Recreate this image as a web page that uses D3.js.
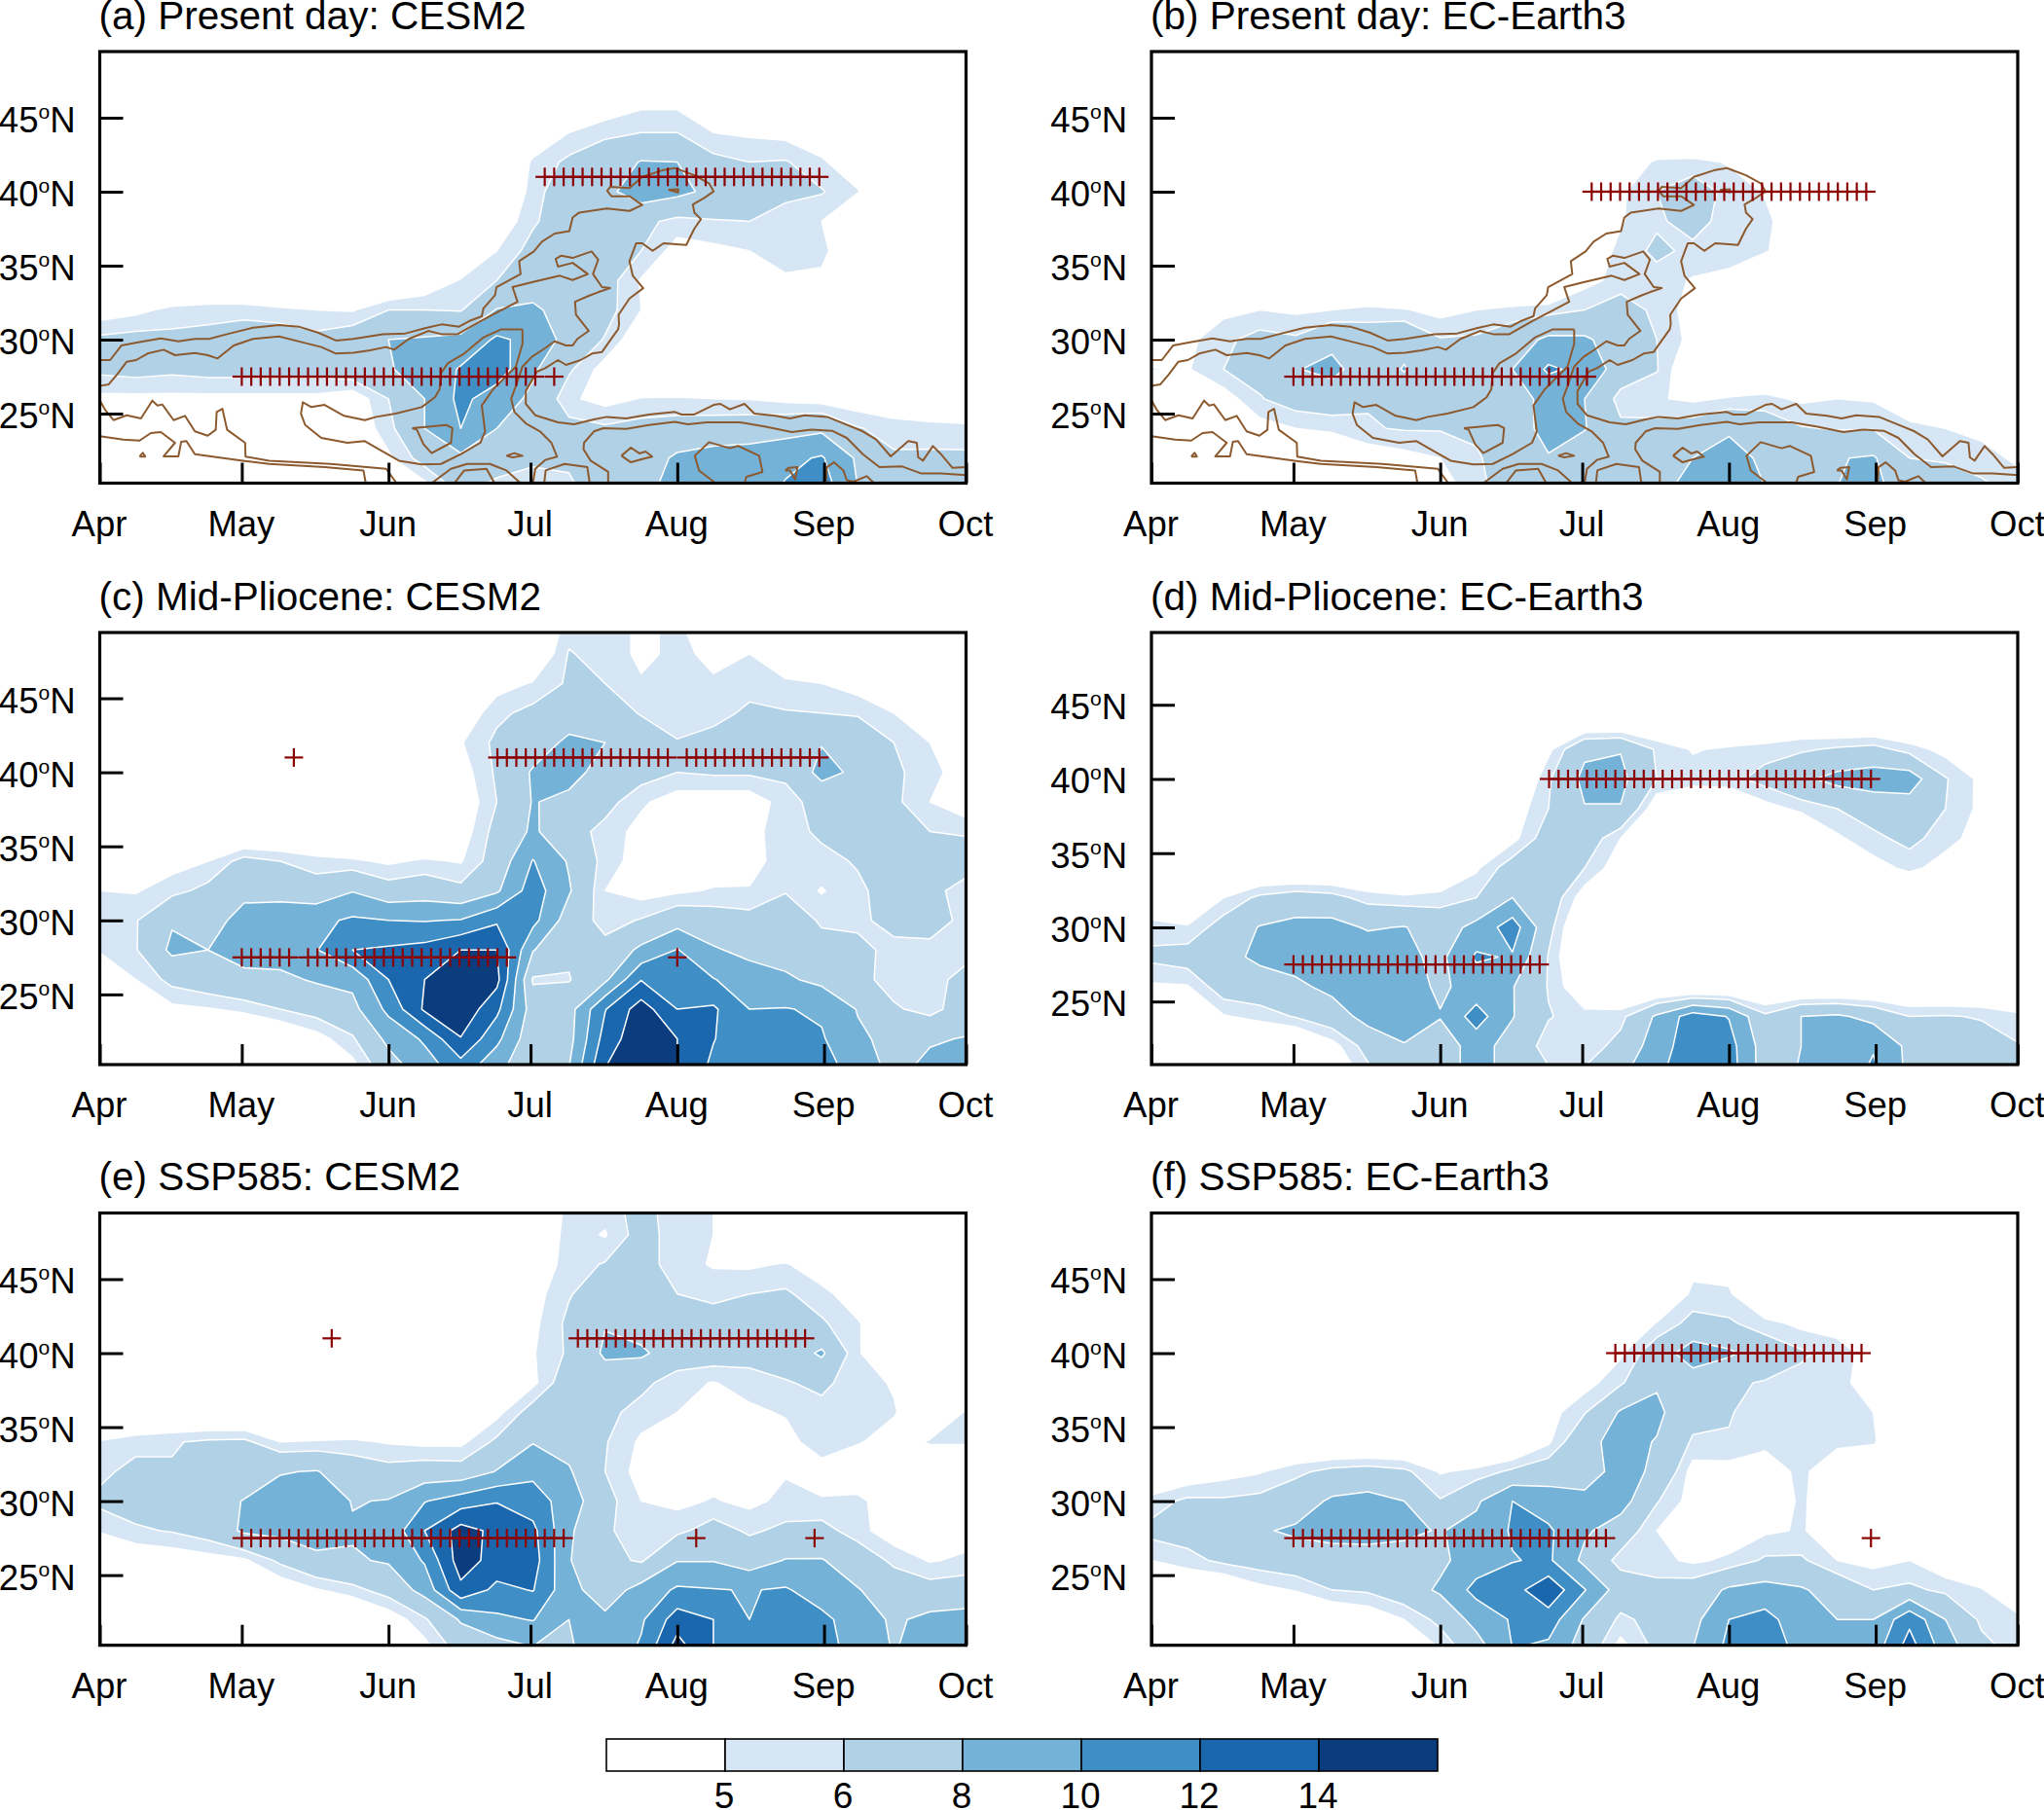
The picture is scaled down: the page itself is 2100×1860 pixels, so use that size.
<!DOCTYPE html>
<html><head><meta charset="utf-8">
<script src="https://cdn.jsdelivr.net/npm/d3@7"></script>
<style>html,body{margin:0;padding:0;background:#fff}svg{display:block}text{font-family:"Liberation Sans",Arial,sans-serif;fill:#000}</style>
</head><body><svg id="c" width="2100" height="1860"></svg>
<script>
const levels=[5,6,8,10,12,14];
const bandColors=["#ffffff","#d6e6f4","#b1d1e7","#75b2d8","#3f8fc6","#1a67ad","#0b3d7e"];
const monthLabels=["Apr","May","Jun","Jul","Aug","Sep","Oct"];
const monthDays=[0,30,61,91,122,153,183];
const latTicks=[25,30,35,40,45];
const gridDays=[0,7.625,15.25,22.875,30.5,38.125,45.75,53.375,61,68.625,76.25,83.875,91.5,99.125,106.75,114.375,122,129.625,137.25,144.875,152.5,160.125,167.75,175.375,183];
const gridLats=[50,48,46,44,42,40,38,36,34,32,30,28,26,24,22,20];
const titles=["(a) Present day: CESM2","(b) Present day: EC-Earth3","(c) Mid-Pliocene: CESM2","(d) Mid-Pliocene: EC-Earth3","(e) SSP585: CESM2","(f) SSP585: EC-Earth3"];
const gridA=[
[3,3,3,3,3,3,3,3,3,3,3,3,3,3,3,3,3,3,3,3,3,3,3,3,3],
[3,3,3,3,3,3,3,3,3,3,3,3,3,3,3,3,3,3,3,3,3,3,3,3,3],
[3,3,3,3,3,3,3,3,3,3,3,3,3,3.5,4,4.7,4.7,3.8,3,3,3,3,3,3,3],
[3,3,3,3,3,3,3,3,3,3,3,3,3.8,5,5.7,6,6,5,4.8,4.6,4,3,3,3,3],
[3,3,3,3,3,3,3,3,3,3,3,3,5.2,6.3,7,8.1,8,6.4,6,6.1,5.2,4,3,3,3],
[3,3,3,3,3,3,3,3,3,3,3,3,5.5,7,7.5,9,8.5,7.5,6.3,6.3,6.1,5.1,3,3,3],
[3,3,3,3,3,3,3,3,3,3,3,4,5.8,7,7,6.4,5.6,5.9,6,5.5,5,3,3,3,3],
[3,3,3,3,3,3,3,3,3,3,3.5,5,6.5,7.5,6.8,6,4.5,4.7,5,5.6,5.5,3,3,3,3],
[3,3,3,3,3,3,3,3,3,4,5.1,6,6.8,7,6.6,4.9,4,3,4,4.8,4.6,3,3,3,3],
[4.3,4.7,5.3,5.5,5.5,5.2,5,4.9,6,6,5.9,8.1,8.4,7,6.5,5,4,3.5,3.5,3.5,3.5,3.5,3.5,3.5,3.5],
[6.3,6.5,6.4,6.5,7,7,6.4,7,8,8.2,8.5,10.3,9.5,7.2,5.9,4,3.5,3.5,3.5,3.5,3.5,3.5,3.5,3.5,3.5],
[6.3,6.5,6.3,6.5,6.5,6.5,6.5,7,7.9,8.5,10.2,11,8.3,6.2,4.5,4,3.5,3.5,3.5,3.5,3.5,3.5,3.5,3.5,3.5],
[4.7,4.7,4.7,4.7,4.7,4.7,4.7,4.2,6,8,10.5,9,7.6,5.2,4.6,5.05,5.1,5,4.95,4.7,4.5,4.2,4,4,4],
[3,3,3,3,3,3.5,3.8,4,5.6,8,10,8,7,6.5,6.2,6.5,6.7,6.8,6.9,7.2,7.6,6.1,5.5,5.3,5.2],
[3,3,3,3,3,3,3,3,4.8,6.6,7.6,7,6.3,6.3,7,7,8.3,8.8,9,9.5,10.2,7.7,6.2,6.3,6.3],
[3,3,3,3,3,3,3,3,3,4.5,6.5,5.5,5.3,5.7,7,7.6,8.5,8.9,9,10.2,11,8,7.2,7,7]];
const gridB=[
[3,3,3,3,3,3,3,3,3,3,3,3,3,3,3,3,3,3,3,3,3,3,3,3,3],
[3,3,3,3,3,3,3,3,3,3,3,3,3,3,3,3,3,3,3,3,3,3,3,3,3],
[3,3,3,3,3,3,3,3,3,3,3,3,3,3,3,3,3,3,3,3,3,3,3,3,3],
[3,3,3,3,3,3,3,3,3,3,3,3,3,3,3,3,3,3,3,3,3,3,3,3,3],
[3,3,3,3,3,3,3,3,3,3,3,3,3,4,5.2,5.3,4.9,4,3,3,3,3,3,3,3],
[3,3,3,3,3,3,3,3,3,3,3,3,3.5,4.8,6,6.8,5.6,4.9,3,3,3,3,3,3,3],
[3,3,3,3,3,3,3,3,3,3,3,3,3.5,4.9,5.8,6.5,5.5,5.3,4,3,3,3,3,3,3],
[3,3,3,3,3,3,3,3,3,3,3,3,4,5.3,6.3,5.7,5.3,5.1,4.2,3,3,3,3,3,3],
[3,3,3,3,3,3,3,3,3,3,3,3,4.6,5.4,5.5,4.9,4.8,3.5,3,3,3,3,3,3,3],
[3.5,3.5,4.7,5,4.8,5,5.3,5.1,4.6,5,5.3,5.5,6,6.7,5.7,4.5,3.5,3.5,3.5,3.5,3.5,3.5,3.5,3.5,3.5],
[3.5,4.7,5.7,6.5,6.2,7.5,7,7.5,6.1,6.2,7,8.4,8.3,7,6,4.6,3.5,3.5,3.5,3.5,3.5,3.5,3.5,3.5,3.5],
[5.1,4.9,6,6.5,7.9,8.5,7,8.1,7,7.2,8,10.3,9.5,7,6.1,3.5,3.5,3.5,3.5,3.5,3.5,3.5,3.5,3.5,3.5],
[3,3,4.4,5.9,6.7,7,6.1,7,7,7,7.3,8.5,8,5.5,5.1,4.8,5.1,5.3,4.8,5,4.9,3.8,3,3,3],
[3,3,3,4.5,5,5.2,5.9,6.1,6.1,6.3,6.5,9,8.1,6.3,6.5,6.7,7.7,7,6.1,5.9,5.9,5.4,5,4.7,4],
[3,3,3,3,3.5,3.8,4.2,4.6,5,5.8,7,7.8,6.8,6.3,6.8,8,8.8,7.6,7.6,7.9,8.2,6,5.7,5.4,4.8],
[3,3,3,3,3,3,3,3,4.5,5.5,7,7.5,6.8,6.5,7.5,8.6,9,8,8,8,8.5,7,7.5,6.3,5.5]];
const gridC=[
[3,3,3,3,3,3,3,3,3,3,3,3,3,5.5,5.5,4.8,5.2,4,3,3,3,3,3,3,3],
[3,3,3,3,3,3,3,3,3,3,3,3,3.5,6.1,5.5,4.8,5.2,4.8,5,4,3,3,3,3,3],
[3,3,3,3,3,3,3,3,3,3,3,4.5,5.1,6.2,6,5.1,5.3,5.1,5.5,5.2,5,4.4,3,3,3],
[3,3,3,3,3,3,3,3,3,3,4,5.7,6.4,7,6.8,5.9,5.3,5.5,6.3,6.1,6,5.9,5,4.3,3.5],
[3,3,3,3,3,3,3,3,3,3,4.9,6.3,7,8.4,8,7,6.1,6.6,7,6.8,7.9,6.8,6,5,4.3],
[3,3,3,3,3,3,3,3,3,3,4.4,6.2,8.2,8.7,7.2,6.6,6,6.2,6.2,6.3,8.6,7.6,6.3,5.3,4.5],
[3,3,3,3,3,3,3,3,3,3,4,6,8.1,7.5,6.5,5.2,4.4,4.3,4.3,5.5,6.6,6.8,6.3,5,4],
[3,3,3,3,3,3,3,3,3,3,4.3,6.5,8.3,6.6,5.6,4.6,4.3,4.3,4.6,5.6,6.2,6.6,6.5,6,5.9],
[3,3.5,4.5,5,6.5,6,5.4,5.2,4.8,5.2,4.9,6.7,10.1,7.8,5.5,4.5,4.3,4.3,4.5,5.6,5.7,6.1,6.5,6.5,6.5],
[5,4.9,5.6,6.4,7.5,7.7,6.8,7.9,6.7,7,6.4,7.7,11,8.2,5,4.5,4.8,5.1,5.1,5.9,4.9,5.8,6.5,6.3,5.6],
[5.2,5.9,7.8,7.2,8.7,8.5,9.5,10.3,10,9.9,10.1,11.7,10.6,7,5.5,6.1,7.2,6.8,6.5,7,5.8,5.7,6.5,6.5,5.7],
[5.1,5.9,8.4,8,8.6,8.8,9.9,12,12.3,12.7,14,14,8.1,6.3,6.5,8.4,10.1,8.2,7.5,7.2,6.6,6.4,5.6,5.7,5.8],
[4,5,6.4,7,7.6,7.6,8.2,8.5,12,14,15,14.6,5.8,5.9,7.6,11.9,11,10.1,8.9,8.3,7.5,6.5,5.4,5.8,6.2],
[3,3,4.7,4.9,5.3,6,6.6,7.4,10.5,14.3,15.5,12.5,7,7.2,11.9,15,12,12.3,10,10.1,9.7,7.9,6.2,5.5,6.9],
[3,3,3,3,3,3.5,4.5,5.8,8.5,10.3,13.9,10.5,6.6,7.3,12.8,15.5,14,12.1,10.5,10.5,10.2,8.3,7.5,7.8,8.1],
[3,3,3,3,3,3,3,4.5,7,9,11,8.5,6.5,8,14,16,14,11.5,10.8,11,11,9,7.5,8.5,9]];
const gridD=[
[3,3,3,3,3,3,3,3,3,3,3,3,3,3,3,3,3,3,3,3,3,3,3,3,3],
[3,3,3,3,3,3,3,3,3,3,3,3,3,3,3,3,3,3,3,3,3,3,3,3,3],
[3,3,3,3,3,3,3,3,3,3,3,3,3,3,3,3,3,3,3,3,3,3,3,3,3],
[3,3,3,3,3,3,3,3,3,3,3,3,3,3,3,3,3,3,3.5,3,3,3,3,3,3],
[3,3,3,3,3,3,3,3,3,3,3,4.7,7.6,7.9,5.8,4.9,5.2,5.5,5.8,6.2,6.5,5.5,4.6,3.5,3],
[3,3,3,3,3,3,3,3,3,3,3,5.8,8.5,8.5,6,5.5,5.6,6.5,7.6,8.6,9,9,6.1,4.7,3.5],
[3,3,3,3,3,3,3,3,3,3,4.2,6,7.9,7.9,4,3.5,3.5,4.5,5.3,6,6.7,7,6,4.7,3.8],
[3,3,3,3,3,3,3,3,3,3,4.6,6.8,7,5,3,3,3,3,3,4.8,5.7,6.4,5.4,4.5,4.8],
[3,3,3,3,3,3,3,3,3,4.8,6.8,7,6,4.2,3,3,3,3,3,3.5,4.5,5.3,4.5,3.5,3.5],
[3.5,3.8,5,6.3,6.8,6.5,5.5,5.2,5.5,6,8,7,4.3,3,3,3,3,3,3,3,3,3,3,3,3],
[5.5,5.1,6.7,8.1,8.6,8.7,7.8,8.1,7,8.6,11,6.5,3,3,3,3,3,3,3,3,3,3,3,3,3],
[6.3,6.7,7.4,8.4,8.8,9,9.4,8.5,7.5,10.3,9.8,5.9,3,3,3,3,3,3,3,3,3,3,3,3,3],
[4.8,4.9,6.8,7,7.6,8.5,9,8.8,7.7,8.7,8.1,5.9,3.8,3,3,3,3,3,3,3,3,3,3,3,3],
[3.5,3.5,4.9,5.4,6.1,7,8.7,8.8,8.1,10.9,8.1,6.1,5.4,5.6,8.3,11,9.9,6.3,8,8.3,7.4,6,6.1,5.9,5.3],
[3,3,3,3,3,4.5,6.6,7.9,7,8.8,7.2,5.4,5.3,6.5,9,11.2,10.8,7,8,8.5,9.8,7.5,6.2,6.6,6.1],
[3,3,3,3,3,3.5,5.5,7,7,8.8,7.2,6.3,6.3,7.7,9.6,11.5,11,7,8.2,8.8,10.5,7.5,6.5,6.7,6]];
const gridE=[
[3,3,3,3,3,3,3,3,3,3,3,3,3,5.4,5.5,6.5,5.3,5,3,3,3,3,3,3,3],
[3,3,3,3,3,3,3,3,3,3,3,3,3.5,5.5,4.9,6.6,5.4,5,4,3,3,3,3,3,3],
[3,3,3,3,3,3,3,3,3,3,3,3,4,5.5,6.1,6.6,5.4,4.9,4.8,5.1,4.3,3,3,3,3],
[3,3,3,3,3,3,3,3,3,3,3,3,4.5,5.9,6.8,6.8,6,5.6,6,6.2,5.3,4.4,3,3,3],
[3,3,3,3,3,3,3,3,3,3,3,3,4.7,6.3,7.9,7.2,7,6.8,6.6,6.6,6.2,5.1,4,3,3],
[3,3,3,3,3,3,3,3,3,3,3,3.8,4.9,6.2,8.3,8.3,7,6.8,6.6,6.8,8.3,5.1,4,3,3],
[3,3,3,3,3,3,3,3,3,3,3,3,4.7,7,7,6.4,5.3,4.95,5.4,5.9,6.3,5.4,4.9,3,3],
[3,3,3,3,3,3,3,3,3,3,3,4.6,6.7,7,6.4,5.5,5,4.6,4.8,5.1,5.6,5.5,5.1,4,5.1],
[5.1,5.6,5.9,6.2,6.3,5,5.1,5.2,4.9,4.7,4.7,6.3,7.9,7.3,6.1,4.8,4.6,4.6,4.6,4.6,5.6,5.1,4.5,5.1,5.1],
[5.7,6.4,6.1,6.6,6.7,7.9,8.1,7,6.5,6.8,6.7,8.1,9.5,8.2,6,4.5,4.5,4.5,4.5,4.9,4.5,4,4,4,4],
[6.3,6.7,6.7,7,8.1,8.7,9.5,7.9,8.1,9.9,11,11.9,11,9,6.5,5,4.7,5.1,4.7,5.3,5.1,5.3,4.2,4.2,4.2],
[5.1,5.8,6.1,6.7,8.3,8.5,9,8.2,8.6,12,14.8,13.5,12.5,8.3,6.2,5.4,5.7,6.6,5.8,6.3,6.5,5.4,4.3,4.3,4.5],
[3.5,4,4.2,4.5,4.8,6.3,7.5,7.8,8.2,10.2,15,13.2,12.9,8.1,6.5,5.8,7.9,7.9,7,8.1,8.1,7,5.7,4.9,5.2],
[3.5,3.5,3.5,3.5,3.5,4,4.9,5.6,6.6,8.7,13.5,11.5,12.1,8.6,7,8.7,10.3,10.1,9.9,10.2,9,8.1,7,6.6,6.8],
[3,3,3,3,3,3,3,3,4.2,5.8,8.2,9.6,10.1,8,8.4,9.7,13,12,10,11,10.5,9,7.7,8.5,8.7],
[3,3,3,3,3,3,3,3,3,4.5,6.6,7,7.8,7.9,8.5,10.3,15,12,10.4,11,11,9,7.9,8.8,9]];
const gridF=[
[3,3,3,3,3,3,3,3,3,3,3,3,3,3,3,3,3,3,3,3,3,3,3,3,3],
[3,3,3,3,3,3,3,3,3,3,3,3,3,3,3,3,4.5,3,3,3,3,3,3,3,3],
[3,3,3,3,3,3,3,3,3,3,3,3,3,3,3,4.6,4.4,3,3,3,3,3,3,3,3],
[3,3,3,3,3,3,3,3,3,3,3,3,3,3,3,5.3,5.2,3,3,3,3,3,3,3,3],
[3,3,3,3,3,3,3,3,3,3,3,3,3,3.5,5.1,6.5,6.2,5.4,4.7,4.5,3.5,3,3,3,3],
[3,3,3,3,3,3,3,3,3,3,3,3,3,4.8,7,9,8.3,7,6.2,5.5,4.5,3,3,3,3],
[3,3,3,3,3,3,3,3,3,3,3,3,4.5,5.8,7.8,7,6.2,5.9,5.6,5.3,4.5,3,3,3,3],
[3,3,3,3,3,3,3,3,3,3,3,4.5,5.9,8.2,8.4,6.6,6.1,5.4,5.3,5.3,5,3,3,3,3],
[3,3,3,3,3,3,3,3,3,3,3,4.8,7.5,8.6,7.9,5.8,5.9,5.3,5.3,5.3,5.2,3,3,3,3],
[3.5,3.9,4.5,4.9,5.7,6.4,6.7,6.3,4.9,5.3,6.3,7,7.5,8.4,7.8,4.5,4.5,4.3,5.3,4,3,3,3,3,3],
[5.4,6.3,6.2,6.4,7,8.3,8.6,8,6.1,7.7,10,9,8.3,8.8,6.1,4.5,4,4,5.2,4,3.5,3.5,3.5,3.5,3.5],
[6.4,6.6,7.6,7.8,8.3,8.6,8.6,8.3,7.9,8.6,10.2,10.3,8.3,7,5,4,4.3,4.8,5.1,4.4,3.5,3.5,3.5,3.5,3.5],
[5,5.6,6.3,6.7,7,7.2,7.3,7.4,7.6,9,9.9,10.3,7.5,5.5,5.3,4.8,5.2,6.2,6.2,5,4.6,5,4,3.5,3.5],
[3.5,3.5,3.5,4.6,5.1,6,6.2,7,8.3,10.6,11.2,13.5,10.1,7,6.5,6.8,8.3,8.7,8.2,7.2,6,6.3,5.7,5.1,3.8],
[3,3,3,3,3,3.5,4,5,6.4,8.7,10.2,11,7.8,5.7,6.5,7.4,10,10.7,8.8,8,8,11.5,8,5.7,5.3],
[3,3,3,3,3,3,3,3,5,7,10,9.5,7,4.5,6.3,8,10.5,11,9.5,8.6,9,13,9,6.5,5.5]];
const grids=[gridA,gridB,gridC,gridD,gridE,gridF];
// significant days: [lat, first day, last day] runs every 2 days
const runsA=[[41,94,152],[27.5,30,92],[27.5,96,96]];
const runsB=[[40,93,151],[27.5,30,92]];
const runsC=[[41,84,120],[41,124,152],[41,41,41],[27.5,30,40],[27.5,44,86],[27.5,122,122]];
const runsD=[[40,84,152],[27.5,30,82]];
const runsE=[[41,101,149],[41,49,49],[27.5,30,98],[27.5,126,126],[27.5,151,151]];
const runsF=[[40,98,150],[27.5,30,96],[27.5,152,152]];
const runs=[runsA,runsB,runsC,runsD,runsE,runsF];
// observed contours [day, lat], same in panels a and b
const obsUpper=[[0,28.62],[2.2,28.62],[4.6,29.61],[8.4,29.83],[12.9,30.09],[16.6,29.89],[20.1,30.05],[23.1,30.05],[26.9,30.37],[32.4,30.81],[37.9,30.99],[42,30.88],[46.1,30.48],[49.9,29.94],[53.6,30.05],[59.8,30.37],[64.6,30.42],[68.7,30.77],[72.2,31.03],[75.9,30.88],[78,31.25],[80.7,31.58],[81.06,32.12],[83.5,33],[83.8,33.55],[88.9,34.43],[88.6,35.3],[91.7,35.96],[93.4,36.62],[96.1,37.17],[99.2,37.34],[99.9,38.26],[101.3,38.59],[107.1,38.86],[111.9,38.7],[114.6,39.1],[111.9,39.69],[108.1,39.69],[107.2,40.06],[107.8,40.32],[111.9,40.24],[114.6,41],[118.8,41.44],[121.5,41.6],[125.6,41.11],[128.7,40.57],[129.7,40.02],[127.7,39.58],[125.3,39.14],[125.6,38.59],[127,38.15],[125.6,37.5],[123.9,36.4],[119.1,36.51],[116.8,36],[114.6,36.51],[113.3,36.51],[111.9,35.3],[112.6,34.32],[114.8,33.48],[111.9,32.78],[109.6,31.68],[109.7,31.03],[109.5,30.7],[107.8,29.94],[106.1,29.17],[104,29.06],[101.6,28.62],[98.5,28.29],[96.8,28.62],[94.1,28.07],[92.4,27.85],[90,26.54],[90,25.66],[92,24.89],[96.8,24.41],[100.2,24.28],[104.4,24.61],[107.1,24.78],[111.2,24.67],[116,24.94],[121.5,25.11],[122.9,24.94],[125.6,24.94],[129.7,25.59],[131.1,25.66],[133.1,25.29],[136.2,25.66],[138.3,25],[142.7,24.85],[145.8,24.67],[148.9,24.89],[153.7,24.78],[157.1,24.34],[161.2,23.8],[164,23.25],[167.1,22.11],[170.8,23.14],[172.6,23.03],[172.9,22.04],[173.9,21.82],[176,22.81],[177.7,22.26],[180.1,21.34],[183,21.38]];
const obsLower=[[0,26.87],[1.9,26.98],[3.6,27.63],[5.7,28.51],[7.7,28.62],[10.1,29.06],[13.5,29.32],[15.9,28.95],[20.1,29.1],[22.8,28.95],[24.9,28.73],[28.3,29.61],[32.4,30.05],[37.9,30.22],[42.7,29.83],[46.8,29.5],[49.9,29.06],[53.6,29.12],[57.1,29.28],[60.5,29.5],[62.2,29.32],[65.3,30.05],[69.4,30.59],[72.2,30.37],[75.6,30.37],[80.4,31.25],[88.25,32.56],[87.2,33.55],[91.3,33.88],[97.2,34.32],[99.9,34.03],[103.1,34.43],[99.9,35.19],[96.8,34.93],[96.3,35.46],[97.5,35.68],[99.9,35.52],[103.9,35.96],[105.3,35.41],[104.2,34.43],[106.1,33.55],[107.8,33.48],[105.4,33.22],[103.3,32.96],[100.4,32.56],[100.6,31.68],[103.3,30.59],[100.9,30.05],[99.9,29.61],[98.5,29.61],[96.1,29.89],[93.4,29.28],[91.3,28.84],[89.3,28.18],[87.9,26.87],[86.9,26],[87.6,25.11],[90,24.34],[93,23.8],[95.4,23.03],[96.6,22.09],[94.1,21.87],[92,21.27],[91.5,20.3]];
const obsBlobM=[[89.3,30.7],[84.8,30.7],[81.1,30.16],[77,29.06],[73.5,28.4],[72.1,27.74],[71.8,26.65],[70.8,26.1],[68,25.44],[62.5,25],[58.4,24.78],[56,24.56],[51.6,24.85],[47.5,25.59],[44.7,25.44],[42.9,25.77],[42.5,25],[43.4,24.23],[46.8,23.36],[52.3,23.03],[56,23.14],[58.4,22.7],[63.2,21.82],[68,21.56],[72.1,21.6],[76.3,22.26],[80.4,23.03],[81.4,23.8],[80.7,25.55],[83.1,26.65],[87.9,28.18],[89.3,29.72],[89.3,30.7]];
const obsBlobN=[[66,24.02],[73.2,24.23],[74.5,24.02],[74.2,23.03],[70.1,22.33],[68.4,22.92],[67,23.91],[66,24.02]];
const obsLoop1=[[85.9,22.15],[87.6,22.33],[89.3,22.15],[87.2,22.04],[85.9,22.15]];
const obsWest1=[[0,25.9],[1.2,25.22],[2.9,24.56],[5.7,24.89],[8.7,24.67],[11.1,25.88],[12.2,25.55],[13.2,25.62],[15.6,24.56],[18,24.85],[20.1,23.8],[22.8,23.51],[24.5,23.91],[24.7,25.11],[25.9,25.33],[26.9,23.91],[30.7,23.03],[30.8,22.09],[35.8,21.82],[48.8,21.6],[60.5,21.27],[62.7,20.3]];
const obsWest2=[[0,23.47],[5,23.25],[8.4,23.18],[10.8,23.69],[12.9,23.75],[15.9,23.03],[13.5,22.11],[16.6,22.11],[17.2,23.09],[18.3,23.14],[20.1,22.26],[31,21.78],[35.8,21.6],[47.5,21.38],[55.7,21.16],[56.2,20.3]];
const obsDot=[[8.4,22.1],[9.1,22.35],[9.6,22.1],[8.4,22.1]];
const obsArch1=[[70.1,20.3],[74.2,21.27],[77.6,21.6],[82.4,21.6],[85.9,21.16],[88.9,20.3]];
const obsArch2=[[74.9,20.3],[77,21.16],[81.7,21.27],[83.4,20.3]];
const obsEast=[[107.4,20.3],[107.4,21.06],[103.7,21.82],[102.2,22.59],[102.3,23.03],[104.4,23.8],[106.4,24.02],[111.2,23.97],[116,24.23],[121.5,24.45],[124.2,24.28],[128.3,24.41],[135.2,24.41],[140.7,24.12],[146.2,23.75],[150.3,23.91],[154.7,23.84],[157.8,23.36],[161.2,22.26],[164.7,21.38],[169.5,21.43],[173.6,20.95],[177.7,20.95],[183,20.84]];
const obsArch3=[[93.9,20.3],[94.2,21.16],[98.2,21.6],[103,21.38],[103.5,20.3]];
const obsBlobP=[[110.2,22.15],[112.2,22.7],[114,22.31],[115.3,22.44],[116.7,22.09],[114.6,21.93],[112.2,21.71],[110.2,22.15]];
const obsBlobQ=[[130.1,20.3],[126.6,21.16],[125.7,22.15],[128.7,23.07],[133.1,22.66],[134.9,22.81],[139.3,22.15],[140,21.06],[136.6,20.73],[136.2,20.3]];
const obsLoopS=[[144.8,21.16],[145.5,21.34],[147.4,21.38],[146.9,20.55],[145.8,21.16],[144.8,21.16]];
const obsArchT=[[153.4,20.3],[153.6,21.38],[155.1,21.71],[157.1,21.16],[157.8,20.5],[159.2,20.4],[162,20.77],[163.6,20.3]];
const obsLoopN=[[120.1,40.13],[122.2,40.17],[122.2,39.95],[120.1,40.13]];
const obsCurves=[obsUpper,obsLower,obsBlobM,obsBlobN,obsLoop1,obsWest1,obsWest2,obsDot,obsArch1,obsArch2,obsEast,obsArch3,obsBlobP,obsBlobQ,obsLoopS,obsArchT,obsLoopN];

const svg=d3.select("#c");
const colX=[[102.5,992.5],[1183,2073]];
const rowY=[[53,496.5],[650,1094],[1246.5,1690.7]];
const latBottom=[20.3,20.3,20.26,20.75,20.26,20.26];
const latTop=[49.47,49.47,49.44,49.87,49.47,49.47];

grids.forEach((grid,p)=>{
  const [L,R]=colX[p%2],[T,B]=rowY[Math.floor(p/2)];
  const xs=d3.scaleLinear().domain([0,183]).range([L,R]);
  const ys=d3.scaleLinear().domain([latBottom[p],latTop[p]]).range([B,T]);
  const g=svg.append("g");
  const cid="clip"+p;
  svg.append("clipPath").attr("id",cid).append("rect").attr("x",L).attr("y",T).attr("width",R-L).attr("height",B-T);
  const plot=g.append("g").attr("clip-path",`url(#${cid})`);
  const nx=gridDays.length,ny=gridLats.length;
  const dayAt=d3.scaleLinear().domain(d3.range(nx)).range(gridDays);
  const latAt=d3.scaleLinear().domain(d3.range(ny)).range(gridLats);
  const proj=d3.geoTransform({point(x,y){this.stream.point(xs(dayAt(x-0.5)),ys(latAt(y-0.5)));}});
  const path=d3.geoPath(proj);
  const contours=d3.contours().size([nx,ny]).smooth(true).thresholds(levels)(grid.flat());
  plot.selectAll("path.band").data(contours).join("path").attr("class","band")
    .attr("d",path).attr("fill",(d,i)=>bandColors[i+1]).attr("stroke","#fff").attr("stroke-width",1.5).attr("stroke-linejoin","round");
  if(p<2){
    const line=d3.line().x(d=>xs(d[0])).y(d=>ys(d[1]));
    plot.selectAll("path.obs").data(obsCurves).join("path").attr("class","obs")
      .attr("d",line).attr("fill","none").attr("stroke","#8c5a2e").attr("stroke-width",2).attr("stroke-linejoin","round");
  }
  const pts=runs[p].flatMap(([lat,a,b])=>d3.range(a,b+1,2).map(d=>[d,lat]));
  const mark=g.append("g").attr("stroke","#8b0000").attr("stroke-width",2.2);
  mark.selectAll("line.h").data(pts).join("line").attr("class","h")
    .attr("x1",d=>xs(d[0])-9.5).attr("x2",d=>xs(d[0])+9.5).attr("y1",d=>ys(d[1])).attr("y2",d=>ys(d[1]));
  mark.selectAll("line.v").data(pts).join("line").attr("class","v")
    .attr("x1",d=>xs(d[0])).attr("x2",d=>xs(d[0])).attr("y1",d=>ys(d[1])-9.5).attr("y2",d=>ys(d[1])+9.5);
  // axes
  const ax=g.append("g").attr("transform",`translate(0,${B})`)
    .call(d3.axisBottom(xs).tickValues(monthDays).tickFormat((d,i)=>monthLabels[i]).tickSize(-21));
  ax.select(".domain").remove();
  ax.selectAll("line").attr("stroke","#000").attr("stroke-width",3);
  ax.selectAll("text").attr("x",-1).attr("y",54).attr("dy",0).attr("font-size",36.5).style("font-family",'"Liberation Sans"').attr("fill","#000");
  const ay=g.append("g").attr("transform",`translate(${L},0)`)
    .call(d3.axisLeft(ys).tickValues(latTicks).tickSize(-24).tickFormat(""));
  ay.select(".domain").remove();
  ay.selectAll("line").attr("stroke","#000").attr("stroke-width",3);
  ay.selectAll(".tick").select("text").each(function(d){
    const t=d3.select(this).attr("x",-25).attr("y",14.5).attr("dy",0).attr("text-anchor","end").attr("font-size",36.5).style("font-family",'"Liberation Sans"').attr("fill","#000");
    t.append("tspan").text(d);
    t.append("tspan").text("o").attr("font-size",21).attr("dy",-14);
    t.append("tspan").text("N").attr("dy",14);
  });
  g.append("rect").attr("x",L).attr("y",T).attr("width",R-L).attr("height",B-T).attr("fill","none").attr("stroke","#000").attr("stroke-width",3.2);
  g.append("text").attr("x",L-1).attr("y",T-23.5).attr("font-size",40.5).text(titles[p]);
});

// colour bar
const cbX=d3.scaleLinear().domain([0,7]).range([623,1477]);
const cb=svg.append("g");
cb.selectAll("rect").data(bandColors).join("rect").attr("x",(d,i)=>cbX(i)).attr("y",1787).attr("width",cbX(1)-cbX(0)).attr("height",33)
  .attr("fill",d=>d).attr("stroke","#000").attr("stroke-width",1.6);
cb.selectAll("text").data(levels).join("text").attr("x",(d,i)=>cbX(i+1)-1).attr("y",1858).attr("text-anchor","middle").attr("font-size",37).text(d=>d);
</script></body></html>
